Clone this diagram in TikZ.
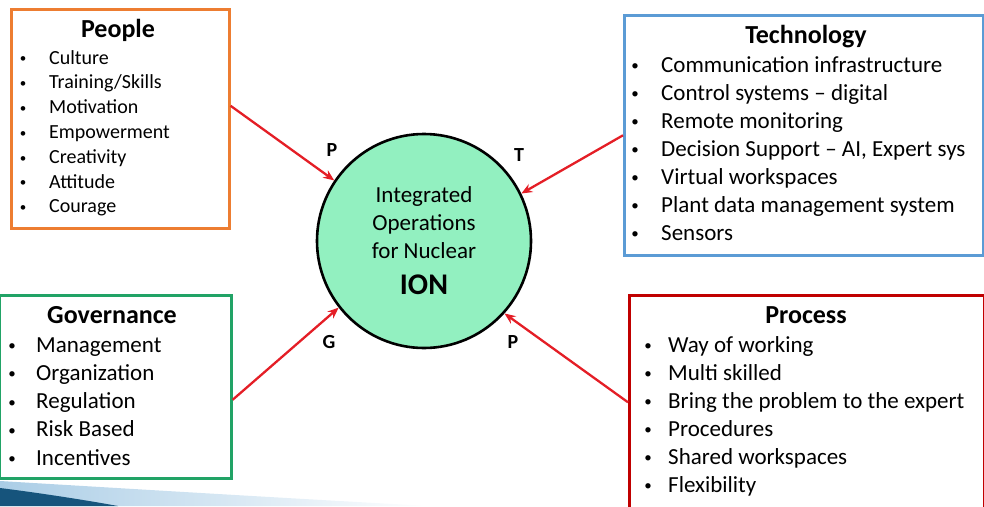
\documentclass[tikz,border=0pt]{standalone}
\usepackage{fontspec}
\setmainfont{Carlito}
\usetikzlibrary{arrows.meta,positioning}

\definecolor{peoplecol}{RGB}{237,125,49}
\definecolor{techcol}{RGB}{91,155,213}
\definecolor{govcol}{RGB}{33,163,102}
\definecolor{proccol}{RGB}{192,0,0}
\definecolor{ioncol}{RGB}{146,240,192}
\definecolor{arrowred}{RGB}{228,30,38}
\definecolor{swooshdark}{RGB}{22,84,124}
\definecolor{swooshlight}{RGB}{170,205,230}

\begin{document}
\begin{tikzpicture}[x=1pt,y=-1pt,
  box/.style={draw,line width=2.6pt,inner sep=0pt,anchor=north west},
  title/.style={anchor=base,inner sep=0pt,font=\fontsize{26}{31}\selectfont\bfseries},
  item/.style={anchor=base west,inner sep=0pt,font=\fontsize{23}{28}\selectfont},
  dot/.style={anchor=base,inner sep=0pt,font=\fontsize{15}{18}\selectfont},
  link/.style={draw=arrowred,line width=2.3pt,-{Stealth[length=11pt,width=9pt]}},
  tag/.style={inner sep=0pt,font=\fontsize{20}{24}\selectfont\bfseries}]
\useasboundingbox (0,0) rectangle (984,506);

% slide swoosh
\shade[left color=swooshlight,right color=white] (0,481) .. controls (150,490) and (300,499) .. (430,506) -- (0,506) -- cycle;
\fill[swooshdark] (0,488) .. controls (40,493) and (85,500) .. (118,506) -- (0,506) -- cycle;

% the four boxes
\node[box,draw=peoplecol,minimum width=218pt,minimum height=219pt] (people) at (10,8) {};
\node[box,draw=techcol,minimum width=359pt,minimum height=240pt] (tech) at (623,14) {};
\node[box,draw=govcol,minimum width=232pt,minimum height=183pt] (gov) at (-2,294) {};
\node[box,draw=proccol,minimum width=355pt,minimum height=222pt] (proc) at (628,294) {};

\node[title] (peopletitle) at (118,37) {People};
\node[title] (techtitle) at (806,43) {Technology};
\node[title] (govtitle) at (112,323) {Governance};
\node[title] (proctitle) at (806,323) {Process};

\foreach \t [count=\i] in {Culture,{Training/Skills},Motivation,Empowerment,Creativity,Attitude,Courage} {
  \node[dot,font=\fontsize{13}{16}\selectfont] (peopleb\i) at (23,38+24.8*\i) {•};
  \node[item,font=\fontsize{20}{24}\selectfont] (people\i) at (49,39.2+24.8*\i) {\t};
}
\foreach \t [count=\i] in {Communication infrastructure,Control systems -- digital,Remote monitoring,
    {Decision Support -- AI, Expert sys},Virtual workspaces,Plant data management system,Sensors} {
  \node[dot] (techb\i) at (635,42.5+28*\i) {•};
  \node[item] (tech\i) at (661,44+28*\i) {\t};
}
\foreach \t [count=\i] in {Management,Organization,Regulation,Risk Based,Incentives} {
  \node[dot] (govb\i) at (12,322.25+28.25*\i) {•};
  \node[item] (gov\i) at (36,323.75+28.25*\i) {\t};
}
\foreach \t [count=\i] in {Way of working,Multi skilled,Bring the problem to the expert,Procedures,Shared workspaces,Flexibility} {
  \node[dot] (procb\i) at (648,322.5+28*\i) {•};
  \node[item] (proc\i) at (668,324+28*\i) {\t};
}

% centre
\node[circle,draw,line width=2.6pt,fill=ioncol,minimum size=214pt,align=center,
      font=\fontsize{23}{28}\selectfont] (ion) at (424,241)
  {Integrated\\Operations\\for Nuclear\\[8pt]{\fontsize{30}{36}\selectfont\bfseries ION}};

\node[tag] (tagpeople) at (332,150) {P};
\node[tag] (tagtech) at (519,155) {T};
\node[tag] (taggov) at (329,342) {G};
\node[tag] (tagproc) at (513,342) {P};

\draw[link] ([yshift=13pt]people.east) -- (ion.146);
\draw[link] (tech.west) -- (ion.26);
\draw[link] ([yshift=-13pt]gov.east) -- (ion.218);
\draw[link] ([yshift=4pt]proc.west) -- (ion.318);
\end{tikzpicture}
\end{document}
